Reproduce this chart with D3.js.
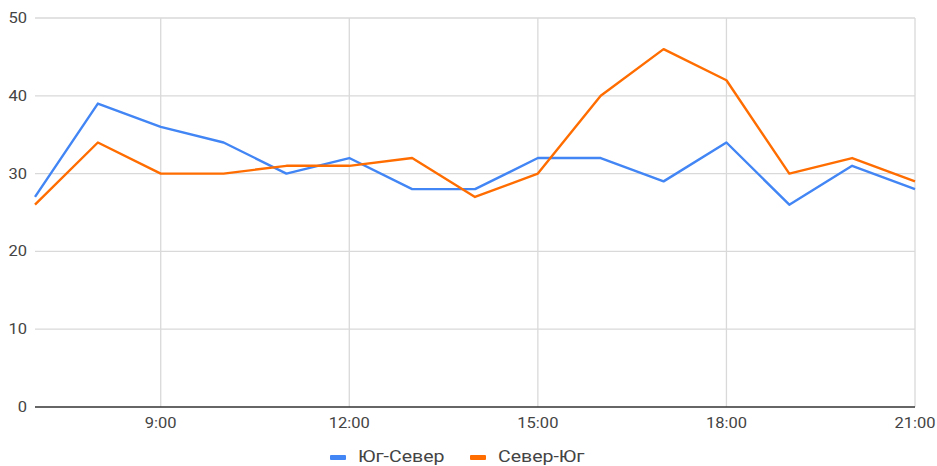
<!DOCTYPE html>
<html>
<head>
<meta charset="utf-8">
<script src="https://cdn.jsdelivr.net/npm/d3@7"></script>
<style>
  html, body { margin: 0; padding: 0; background: #fff; }
  svg { display: block; font-family: Roboto, "Noto Sans", Arial, sans-serif; }
</style>
</head>
<body>
<svg id="chart" width="937" height="466"></svg>
<script>
// Hourly counts by direction, 7:00 – 21:00
const hours = [7, 8, 9, 10, 11, 12, 13, 14, 15, 16, 17, 18, 19, 20, 21];
const southNorth = [27, 39, 36, 34, 30, 32, 28, 28, 32, 32, 29, 34, 26, 31, 28];
const northSouth = [26, 34, 30, 30, 31, 31, 32, 27, 30, 40, 46, 42, 30, 32, 29];
const seriesNames = ["Юг-Север", "Север-Юг"];
const seriesColors = ["#4285f4", "#ff6d01"];
const xTicks = [9, 12, 15, 18, 21];
const yTicks = [0, 10, 20, 30, 40, 50];

const svg = d3.select("#chart");
const plot = { left: 35, right: 915, top: 18, bottom: 407 };
const textStretch = 1.18;

const x = d3.scaleLinear().domain([7, 21]).range([plot.left, plot.right]);
const y = d3.scaleLinear().domain([0, 50]).range([plot.bottom, plot.top]);

// horizontal gridlines
svg.append("g")
  .selectAll("line")
  .data(yTicks.filter(d => d > 0))
  .join("line")
  .attr("x1", plot.left).attr("x2", plot.right)
  .attr("y1", d => y(d)).attr("y2", d => y(d))
  .attr("stroke", "#d9d9d9").attr("stroke-width", 1.3);

// vertical gridlines
svg.append("g")
  .selectAll("line")
  .data(xTicks)
  .join("line")
  .attr("x1", d => x(d)).attr("x2", d => x(d))
  .attr("y1", plot.top).attr("y2", plot.bottom)
  .attr("stroke", "#d9d9d9").attr("stroke-width", 1.3);

// y-axis labels
svg.append("g")
  .selectAll("text")
  .data(yTicks)
  .join("text")
  .attr("transform", d => `translate(27,${y(d)}) scale(${textStretch},1)`)
  .attr("text-anchor", "end")
  .attr("dy", "0.36em")
  .attr("font-size", 14)
  .attr("fill", "#444")
  .text(d => d);

// x-axis labels
svg.append("g")
  .selectAll("text")
  .data(xTicks)
  .join("text")
  .attr("transform", d => `translate(${x(d)},428) scale(${textStretch},1)`)
  .attr("text-anchor", "middle")
  .attr("font-size", 14)
  .attr("fill", "#444")
  .text(d => `${d}:00`);

// series lines
const line = d3.line()
  .x((d, i) => x(hours[i]))
  .y(d => y(d));

[southNorth, northSouth].forEach((vals, k) => {
  svg.append("path")
    .datum(vals)
    .attr("fill", "none")
    .attr("stroke", seriesColors[k])
    .attr("stroke-width", 2.4)
    .attr("stroke-linejoin", "round")
    .attr("d", line);
});

// baseline
svg.append("line")
  .attr("x1", plot.left).attr("x2", plot.right)
  .attr("y1", y(0)).attr("y2", y(0))
  .attr("stroke", "#333").attr("stroke-width", 1.5);

// legend
const legendX = [330, 470];
const legend = svg.append("g");
seriesNames.forEach((name, k) => {
  legend.append("rect")
    .attr("x", legendX[k]).attr("y", 455)
    .attr("width", 16).attr("height", 5)
    .attr("rx", 1)
    .attr("fill", seriesColors[k]);
  legend.append("text")
    .attr("transform", `translate(${legendX[k] + 28},462) scale(1.22,1)`)
    .attr("font-size", 16)
    .attr("fill", "#444")
    .text(name);
});
</script>
</body>
</html>
